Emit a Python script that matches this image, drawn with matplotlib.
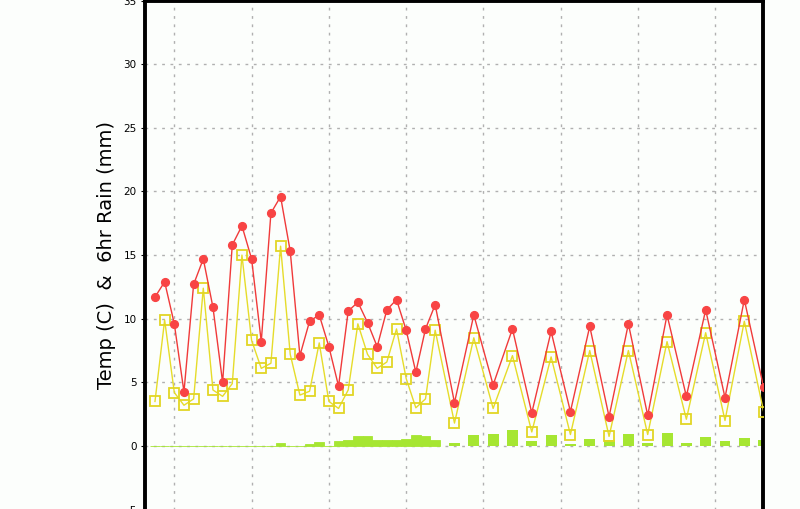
import matplotlib
matplotlib.use("Agg")
import matplotlib.pyplot as plt
import numpy as np

# Forecast hours (3-hourly to 87 h, then 6-hourly)
hours = [0, 3, 6, 9, 12, 15, 18, 21, 24, 27, 30, 33, 36, 39, 42, 45, 48, 51, 54, 57,
         60, 63, 66, 69, 72, 75, 78, 81, 84, 87,
         93, 99, 105, 111, 117, 123, 129, 135, 141, 147, 153, 159, 165, 171, 177, 183, 189]

temp = [11.7, 12.9, 9.6, 4.25, 12.7, 14.7, 10.9, 5.0, 15.8, 17.3, 14.7, 8.2, 18.3, 19.6, 15.3, 7.1,
        9.8, 10.3, 7.8, 4.7, 10.6, 11.3, 9.7, 7.8, 10.7, 11.5, 9.1, 5.8, 9.2, 11.1,
        3.4, 10.3, 4.8, 9.2, 2.6, 9.0, 2.7, 9.4, 2.3, 9.6, 2.4, 10.3, 3.9, 10.7, 3.8, 11.5, 4.6]

dewpoint = [3.5, 9.9, 4.2, 3.2, 3.7, 12.4, 4.4, 3.9, 4.9, 15.0, 8.3, 6.1, 6.5, 15.7, 7.2, 4.0,
            4.3, 8.1, 3.5, 2.95, 4.4, 9.6, 7.2, 6.1, 6.6, 9.2, 5.3, 3.0, 3.7, 9.1,
            1.8, 8.5, 2.95, 7.1, 1.1, 7.0, 0.9, 7.5, 0.75, 7.5, 0.9, 8.2, 2.1, 8.9, 2.0, 9.8, 2.7]

rain_hours_3h = [0, 3, 6, 9, 12, 15, 18, 21, 24, 27, 30, 33, 36, 39, 42, 45, 48, 51, 54, 57,
                 60, 63, 66, 69, 72, 75, 78, 81, 84, 87]
rain_3h = [0, 0, 0, 0, 0, 0, 0, 0, 0, 0, 0, 0, 0, 0.2, 0, 0, 0.12, 0.28, 0, 0.36,
           0.45, 0.76, 0.76, 0.45, 0.45, 0.45, 0.52, 0.9, 0.76, 0.45]
rain_hours_6h = [93, 99, 105, 111, 117, 123, 129, 135, 141, 147, 153, 159, 165, 171, 177, 183, 189]
rain_6h = [0.2, 0.85, 0.93, 1.24, 0.37, 0.85, 0.13, 0.52, 0.45, 0.92, 0.21, 1.0, 0.21, 0.68, 0.37, 0.6, 0.45]

grid_hours = [6, 30, 54, 78, 102, 126, 150, 174]
yticks = [-5, 0, 5, 10, 15, 20, 25, 30, 35]

W, H = 800, 509
fig = plt.figure(figsize=(W / 100, H / 100), dpi=100)
bg = '#fcfefc'
fig.patch.set_facecolor(bg)
ax = fig.add_axes([145 / W, -0.6 / H, 618 / W, 509.0 / H])
ax.set_facecolor(bg)

green = '#a6e632'
# 3-hourly rain bars (contiguous), zero values show as a thin line
ax.bar(rain_hours_3h, rain_3h, width=3.0, color=green, edgecolor=green, linewidth=0.6, zorder=2)
ax.bar(rain_hours_6h, rain_6h, width=3.4, color=green, linewidth=0, zorder=2)

ax.plot(hours, dewpoint, color='#e6dc2a', linewidth=1.0, zorder=3,
        marker='s', markersize=7.2, markerfacecolor='none', markeredgecolor='#e2d624',
        markeredgewidth=1.3)
ax.plot(hours, temp, color='#f03a3a', linewidth=1.0, zorder=4,
        marker='o', markersize=5.6, markerfacecolor='#f84444', markeredgecolor='#f84444')

ax.set_xlim(-3.1, 188.8)
ax.set_ylim(-5, 35)
ax.set_yticks(yticks)
ax.set_yticklabels([str(v) for v in yticks], fontsize=7.5)
ax.set_xticks(grid_hours)
ax.set_xticklabels([])
ax.tick_params(axis='x', length=0)
ax.tick_params(axis='y', direction='out', length=3, width=0.8, pad=3)

ax.grid(True, color='#b0b0b0', linestyle=(0, (2, 4)), linewidth=1.0, zorder=1)
ax.set_axisbelow(True)

for side in ['left', 'right', 'top']:
    ax.spines[side].set_linewidth(2.8)
    ax.spines[side].set_color('black')
ax.spines['bottom'].set_visible(False)

ax.set_ylabel('Temp (C)  &  6hr Rain (mm)', fontsize=14, labelpad=20)
ax.yaxis.set_label_coords(-0.047, 0.5)

fig.savefig('out.png', dpi=100, facecolor=bg)
